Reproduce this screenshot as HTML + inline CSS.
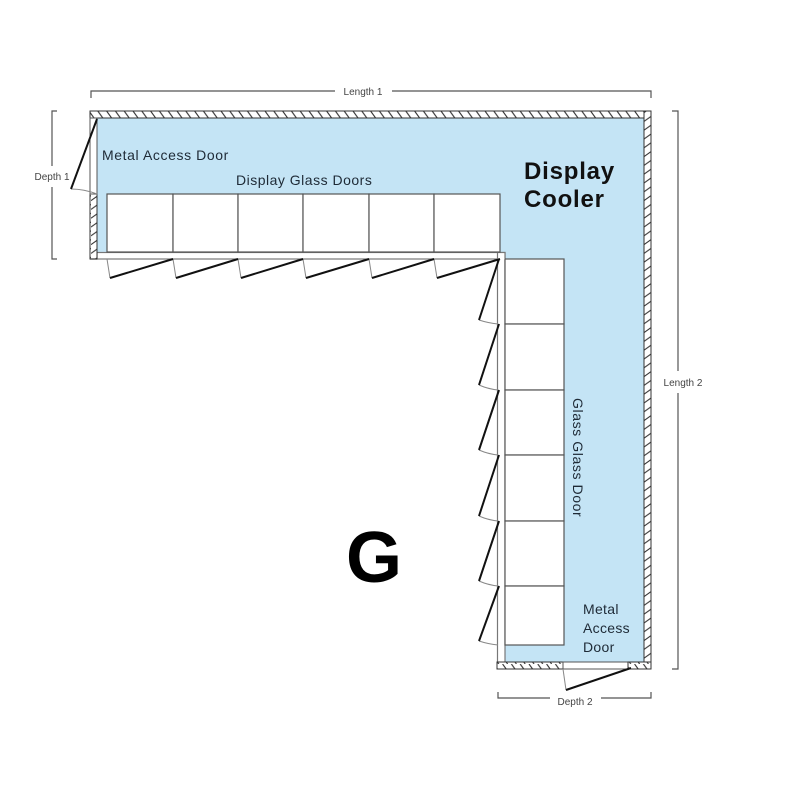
<!DOCTYPE html>
<html><head><meta charset="utf-8"><style>
html,body{margin:0;padding:0;background:#fff;}
svg{display:block;}
text{font-family:"Liberation Sans",sans-serif;}
</style></head><body>
<svg width="800" height="800" viewBox="0 0 800 800" xmlns="http://www.w3.org/2000/svg">
<defs>
<pattern id="hh" patternUnits="userSpaceOnUse" width="8.8" height="7" x="0" y="111">
<rect width="8.8" height="7" fill="#fff"/>
<line x1="1" y1="0" x2="6" y2="7" stroke="#333" stroke-width="1.1"/>
</pattern>
<pattern id="hv" patternUnits="userSpaceOnUse" width="7" height="8.8" x="0" y="0">
<rect width="7" height="8.8" fill="#fff"/>
<line x1="0" y1="7" x2="7" y2="2" stroke="#333" stroke-width="1.1"/>
</pattern>
</defs>

<!-- blue interior -->
<polygon points="97,118 644,118 644,662 505,662 505,252 97,252" fill="#c4e4f5"/>

<!-- horizontal frame -->
<rect x="97" y="252.5" width="408" height="6.5" fill="#fff" stroke="#777" stroke-width="1.2"/>
<!-- vertical frame -->
<rect x="497.5" y="252.5" width="7.5" height="410" fill="#fff" stroke="#777" stroke-width="1.2"/>
<line x1="497.5" y1="259" x2="505" y2="259" stroke="#fff" stroke-width="1.5"/>

<!-- horizontal door boxes -->
<g fill="#fff" stroke="#555" stroke-width="1.2">
<rect x="107" y="194" width="66" height="58"/>
<rect x="173" y="194" width="65" height="58"/>
<rect x="238" y="194" width="65" height="58"/>
<rect x="303" y="194" width="66" height="58"/>
<rect x="369" y="194" width="65" height="58"/>
<rect x="434" y="194" width="66" height="58"/>
</g>
<!-- vertical door boxes -->
<g fill="#fff" stroke="#555" stroke-width="1.2">
<rect x="505" y="259" width="59" height="65"/>
<rect x="505" y="324" width="59" height="66"/>
<rect x="505" y="390" width="59" height="65"/>
<rect x="505" y="455" width="59" height="66"/>
<rect x="505" y="521" width="59" height="65"/>
<rect x="505" y="586" width="59" height="59"/>
</g>

<!-- horizontal door swings -->
<g fill="none">
<g stroke="#888" stroke-width="1">
<path d="M107,259 L110,278"/><path d="M173,259 L176,278"/><path d="M238,259 L241,278"/>
<path d="M303,259 L306,278"/><path d="M369,259 L372,278"/><path d="M434,259 L437,278"/>
</g>
<g stroke="#111" stroke-width="2">
<path d="M110,278 L173,259"/><path d="M176,278 L238,259"/><path d="M241,278 L303,259"/>
<path d="M306,278 L369,259"/><path d="M372,278 L434,259"/><path d="M437,278 L500,259"/>
</g>
</g>
<!-- vertical door swings -->
<g fill="none">
<g stroke="#888" stroke-width="1">
<path d="M479,320 Q488,323 498,324"/><path d="M479,385 Q488,389 498,390"/>
<path d="M479,450 Q488,454 498,455"/><path d="M479,516 Q488,520 498,521"/>
<path d="M479,581 Q488,585 498,586"/><path d="M479,641 Q488,644 498,645"/>
</g>
<g stroke="#111" stroke-width="2">
<path d="M499,259 L479,320"/><path d="M499,324 L479,385"/><path d="M499,390 L479,450"/>
<path d="M499,455 L479,516"/><path d="M499,521 L479,581"/><path d="M499,586 L479,641"/>
</g>
</g>

<!-- walls -->
<rect x="90" y="111" width="561" height="7" fill="url(#hh)" stroke="#333" stroke-width="1"/>
<rect x="644" y="111" width="7" height="558" fill="url(#hv)" stroke="#333" stroke-width="1"/>
<rect x="90" y="194" width="7" height="65" fill="url(#hv)" stroke="#333" stroke-width="1"/>
<rect x="90" y="118" width="7" height="76" fill="#fff" stroke="#555" stroke-width="1"/>
<rect x="497" y="662" width="66" height="7" fill="url(#hh)" stroke="#333" stroke-width="1"/>
<rect x="563" y="662" width="65" height="7" fill="#fff" stroke="#555" stroke-width="1"/>
<rect x="628" y="662" width="23" height="7" fill="url(#hh)" stroke="#333" stroke-width="1"/>
<line x1="90" y1="259" x2="97" y2="259" stroke="#333" stroke-width="1.2"/>

<!-- metal access door swings -->
<path d="M71,189 Q84,189 97,194" fill="none" stroke="#888" stroke-width="1"/>
<path d="M97,119 L71,189" fill="none" stroke="#111" stroke-width="2"/>
<path d="M563,669 L566,690" fill="none" stroke="#888" stroke-width="1"/>
<path d="M566,690 L631,668" fill="none" stroke="#111" stroke-width="2"/>

<!-- dimension lines -->
<g stroke="#555" stroke-width="1.2" fill="none">
<path d="M91,98 L91,91 L335,91"/>
<path d="M392,91 L651,91 L651,98"/>
<path d="M57,111 L52,111 L52,166"/>
<path d="M52,187 L52,259 L57,259"/>
<path d="M672,111 L678,111 L678,371"/>
<path d="M678,393 L678,669 L672,669"/>
<path d="M498,692 L498,698 L550,698"/>
<path d="M601,698 L651,698 L651,692"/>
</g>
<g font-size="10" fill="#444" text-anchor="middle">
<text x="363" y="95">Length 1</text>
<text x="52" y="180">Depth 1</text>
<text x="683" y="386">Length 2</text>
<text x="575" y="705">Depth 2</text>
</g>

<!-- labels -->
<g fill="#1e2a36" font-size="14">
<text x="102" y="160" letter-spacing="0.6">Metal Access Door</text>
<text x="236" y="185" letter-spacing="0.5">Display Glass Doors</text>
<text x="583" y="614" letter-spacing="0.3">Metal</text>
<text x="583" y="633" letter-spacing="0.3">Access</text>
<text x="583" y="652" letter-spacing="0.3">Door</text>
<text transform="translate(573,398) rotate(90)" letter-spacing="0.6">Glass Glass Door</text>
</g>
<g fill="#111" font-size="24" font-weight="bold" letter-spacing="0.8">
<text x="524" y="179">Display</text>
<text x="524" y="207">Cooler</text>
</g>
<text x="346" y="582" font-size="72" font-weight="bold" fill="#000">G</text>
</svg>
</body></html>
